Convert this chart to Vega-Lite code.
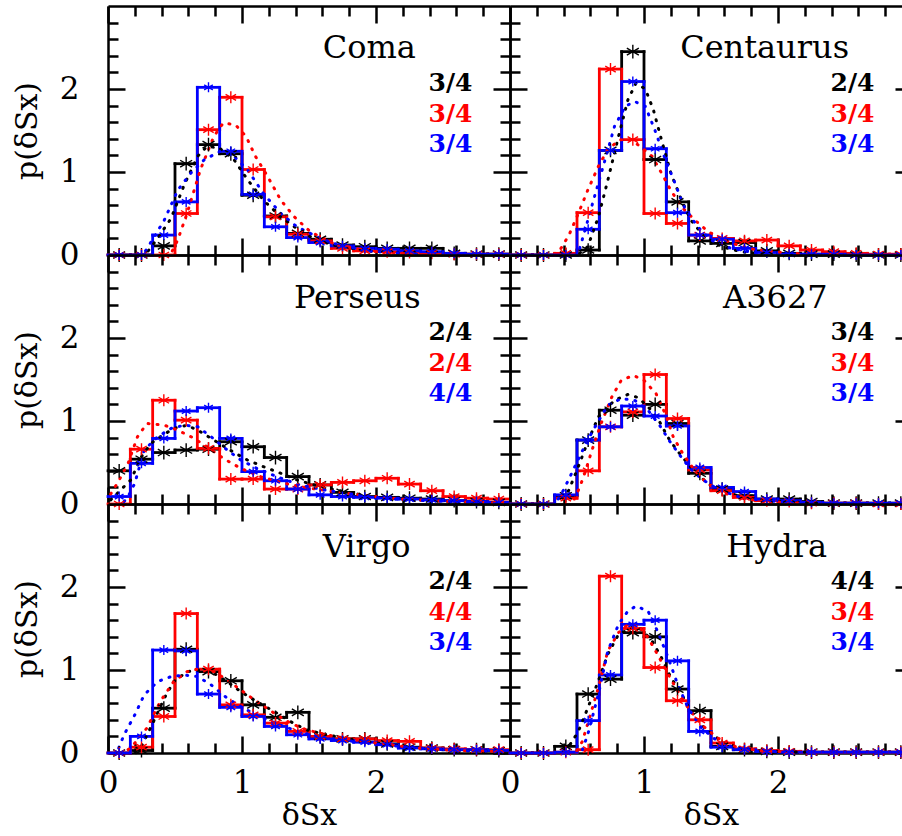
{
"$schema": "https://vega.github.io/schema/vega-lite/v6.json",
"background": "white",
"padding": {"left": 12, "top": 4, "right": 0, "bottom": 0},
"columns": 2,
"spacing": 0,
"bounds": "flush",
"config": {
  "view": {"stroke": null},
  "axis": {"grid": false, "domainColor": "#000000", "domainWidth": 2.5, "tickColor": "#000000", "tickWidth": 2.5, "labelFont": "DejaVu Serif", "labelFontSize": 31, "labelColor": "#000000", "labelFlush": false, "labelOverlap": false, "titleFont": "DejaVu Serif", "titleFontSize": 30, "titleFontWeight": "normal", "titleColor": "#000000"}
},
"datasets": {
"names": [{"c":"Coma"},{"c":"Centaurus"},{"c":"Perseus"},{"c":"A3627"},{"c":"Virgo"},{"c":"Hydra"}],
"fracs": [
{"c":"Coma","s":"1","t":"3/4"},{"c":"Coma","s":"2","t":"3/4"},{"c":"Coma","s":"3","t":"3/4"},
{"c":"Centaurus","s":"1","t":"2/4"},{"c":"Centaurus","s":"2","t":"3/4"},{"c":"Centaurus","s":"3","t":"3/4"},
{"c":"Perseus","s":"1","t":"2/4"},{"c":"Perseus","s":"2","t":"2/4"},{"c":"Perseus","s":"3","t":"4/4"},
{"c":"A3627","s":"1","t":"3/4"},{"c":"A3627","s":"2","t":"3/4"},{"c":"A3627","s":"3","t":"3/4"},
{"c":"Virgo","s":"1","t":"2/4"},{"c":"Virgo","s":"2","t":"4/4"},{"c":"Virgo","s":"3","t":"3/4"},
{"c":"Hydra","s":"1","t":"4/4"},{"c":"Hydra","s":"2","t":"3/4"},{"c":"Hydra","s":"3","t":"3/4"}
],
"hist": [
{"c":"Coma","s":"1","lo":0,"hi":0.1667,"v":0},{"c":"Coma","s":"1","lo":0.1667,"hi":0.3333,"v":0},{"c":"Coma","s":"1","lo":0.3333,"hi":0.5,"v":0.11},{"c":"Coma","s":"1","lo":0.5,"hi":0.6667,"v":1.10},{"c":"Coma","s":"1","lo":0.6667,"hi":0.8333,"v":1.33},{"c":"Coma","s":"1","lo":0.8333,"hi":1,"v":1.22},{"c":"Coma","s":"1","lo":1,"hi":1.1667,"v":0.72},{"c":"Coma","s":"1","lo":1.1667,"hi":1.3333,"v":0.47},{"c":"Coma","s":"1","lo":1.3333,"hi":1.5,"v":0.26},{"c":"Coma","s":"1","lo":1.5,"hi":1.6667,"v":0.19},{"c":"Coma","s":"1","lo":1.6667,"hi":1.8333,"v":0.12},{"c":"Coma","s":"1","lo":1.8333,"hi":2,"v":0.10},{"c":"Coma","s":"1","lo":2,"hi":2.1667,"v":0.08},{"c":"Coma","s":"1","lo":2.1667,"hi":2.3333,"v":0.08},{"c":"Coma","s":"1","lo":2.3333,"hi":2.5,"v":0.08},{"c":"Coma","s":"1","lo":2.5,"hi":2.6667,"v":0.02},{"c":"Coma","s":"1","lo":2.6667,"hi":2.8333,"v":0.01},{"c":"Coma","s":"1","lo":2.8333,"hi":3,"v":0.01},
{"c":"Coma","s":"2","lo":0,"hi":0.1667,"v":0},{"c":"Coma","s":"2","lo":0.1667,"hi":0.3333,"v":0},{"c":"Coma","s":"2","lo":0.3333,"hi":0.5,"v":0},{"c":"Coma","s":"2","lo":0.5,"hi":0.6667,"v":0.50},{"c":"Coma","s":"2","lo":0.6667,"hi":0.8333,"v":1.51},{"c":"Coma","s":"2","lo":0.8333,"hi":1,"v":1.90},{"c":"Coma","s":"2","lo":1,"hi":1.1667,"v":1.03},{"c":"Coma","s":"2","lo":1.1667,"hi":1.3333,"v":0.46},{"c":"Coma","s":"2","lo":1.3333,"hi":1.5,"v":0.25},{"c":"Coma","s":"2","lo":1.5,"hi":1.6667,"v":0.17},{"c":"Coma","s":"2","lo":1.6667,"hi":1.8333,"v":0.08},{"c":"Coma","s":"2","lo":1.8333,"hi":2,"v":0.05},{"c":"Coma","s":"2","lo":2,"hi":2.1667,"v":0.04},{"c":"Coma","s":"2","lo":2.1667,"hi":2.3333,"v":0.03},{"c":"Coma","s":"2","lo":2.3333,"hi":2.5,"v":0.02},{"c":"Coma","s":"2","lo":2.5,"hi":2.6667,"v":0.01},{"c":"Coma","s":"2","lo":2.6667,"hi":2.8333,"v":0.01},{"c":"Coma","s":"2","lo":2.8333,"hi":3,"v":0.01},
{"c":"Coma","s":"3","lo":0,"hi":0.1667,"v":0},{"c":"Coma","s":"3","lo":0.1667,"hi":0.3333,"v":0},{"c":"Coma","s":"3","lo":0.3333,"hi":0.5,"v":0.24},{"c":"Coma","s":"3","lo":0.5,"hi":0.6667,"v":0.64},{"c":"Coma","s":"3","lo":0.6667,"hi":0.8333,"v":2.02},{"c":"Coma","s":"3","lo":0.8333,"hi":1,"v":1.25},{"c":"Coma","s":"3","lo":1,"hi":1.1667,"v":0.73},{"c":"Coma","s":"3","lo":1.1667,"hi":1.3333,"v":0.34},{"c":"Coma","s":"3","lo":1.3333,"hi":1.5,"v":0.21},{"c":"Coma","s":"3","lo":1.5,"hi":1.6667,"v":0.15},{"c":"Coma","s":"3","lo":1.6667,"hi":1.8333,"v":0.11},{"c":"Coma","s":"3","lo":1.8333,"hi":2,"v":0.08},{"c":"Coma","s":"3","lo":2,"hi":2.1667,"v":0.07},{"c":"Coma","s":"3","lo":2.1667,"hi":2.3333,"v":0.05},{"c":"Coma","s":"3","lo":2.3333,"hi":2.5,"v":0.04},{"c":"Coma","s":"3","lo":2.5,"hi":2.6667,"v":0.02},{"c":"Coma","s":"3","lo":2.6667,"hi":2.8333,"v":0.01},{"c":"Coma","s":"3","lo":2.8333,"hi":3,"v":0.01},
{"c":"Centaurus","s":"1","lo":0,"hi":0.1667,"v":0},{"c":"Centaurus","s":"1","lo":0.1667,"hi":0.3333,"v":0},{"c":"Centaurus","s":"1","lo":0.3333,"hi":0.5,"v":0},{"c":"Centaurus","s":"1","lo":0.5,"hi":0.6667,"v":0.06},{"c":"Centaurus","s":"1","lo":0.6667,"hi":0.8333,"v":1.26},{"c":"Centaurus","s":"1","lo":0.8333,"hi":1,"v":2.45},{"c":"Centaurus","s":"1","lo":1,"hi":1.1667,"v":1.15},{"c":"Centaurus","s":"1","lo":1.1667,"hi":1.3333,"v":0.64},{"c":"Centaurus","s":"1","lo":1.3333,"hi":1.5,"v":0.17},{"c":"Centaurus","s":"1","lo":1.5,"hi":1.6667,"v":0.14},{"c":"Centaurus","s":"1","lo":1.6667,"hi":1.8333,"v":0.15},{"c":"Centaurus","s":"1","lo":1.8333,"hi":2,"v":0.05},{"c":"Centaurus","s":"1","lo":2,"hi":2.1667,"v":0.02},{"c":"Centaurus","s":"1","lo":2.1667,"hi":2.3333,"v":0.01},{"c":"Centaurus","s":"1","lo":2.3333,"hi":2.5,"v":0.01},{"c":"Centaurus","s":"1","lo":2.5,"hi":2.6667,"v":0},{"c":"Centaurus","s":"1","lo":2.6667,"hi":2.8333,"v":0},{"c":"Centaurus","s":"1","lo":2.8333,"hi":3,"v":0},
{"c":"Centaurus","s":"2","lo":0,"hi":0.1667,"v":0},{"c":"Centaurus","s":"2","lo":0.1667,"hi":0.3333,"v":0},{"c":"Centaurus","s":"2","lo":0.3333,"hi":0.5,"v":0.02},{"c":"Centaurus","s":"2","lo":0.5,"hi":0.6667,"v":0.51},{"c":"Centaurus","s":"2","lo":0.6667,"hi":0.8333,"v":2.24},{"c":"Centaurus","s":"2","lo":0.8333,"hi":1,"v":1.39},{"c":"Centaurus","s":"2","lo":1,"hi":1.1667,"v":0.50},{"c":"Centaurus","s":"2","lo":1.1667,"hi":1.3333,"v":0.38},{"c":"Centaurus","s":"2","lo":1.3333,"hi":1.5,"v":0.24},{"c":"Centaurus","s":"2","lo":1.5,"hi":1.6667,"v":0.20},{"c":"Centaurus","s":"2","lo":1.6667,"hi":1.8333,"v":0.17},{"c":"Centaurus","s":"2","lo":1.8333,"hi":2,"v":0.18},{"c":"Centaurus","s":"2","lo":2,"hi":2.1667,"v":0.11},{"c":"Centaurus","s":"2","lo":2.1667,"hi":2.3333,"v":0.06},{"c":"Centaurus","s":"2","lo":2.3333,"hi":2.5,"v":0.04},{"c":"Centaurus","s":"2","lo":2.5,"hi":2.6667,"v":0.02},{"c":"Centaurus","s":"2","lo":2.6667,"hi":2.8333,"v":0.01},{"c":"Centaurus","s":"2","lo":2.8333,"hi":3,"v":0.01},
{"c":"Centaurus","s":"3","lo":0,"hi":0.1667,"v":0},{"c":"Centaurus","s":"3","lo":0.1667,"hi":0.3333,"v":0},{"c":"Centaurus","s":"3","lo":0.3333,"hi":0.5,"v":0},{"c":"Centaurus","s":"3","lo":0.5,"hi":0.6667,"v":0.31},{"c":"Centaurus","s":"3","lo":0.6667,"hi":0.8333,"v":1.26},{"c":"Centaurus","s":"3","lo":0.8333,"hi":1,"v":2.09},{"c":"Centaurus","s":"3","lo":1,"hi":1.1667,"v":1.28},{"c":"Centaurus","s":"3","lo":1.1667,"hi":1.3333,"v":0.51},{"c":"Centaurus","s":"3","lo":1.3333,"hi":1.5,"v":0.24},{"c":"Centaurus","s":"3","lo":1.5,"hi":1.6667,"v":0.19},{"c":"Centaurus","s":"3","lo":1.6667,"hi":1.8333,"v":0.08},{"c":"Centaurus","s":"3","lo":1.8333,"hi":2,"v":0.03},{"c":"Centaurus","s":"3","lo":2,"hi":2.1667,"v":0.01},{"c":"Centaurus","s":"3","lo":2.1667,"hi":2.3333,"v":0.01},{"c":"Centaurus","s":"3","lo":2.3333,"hi":2.5,"v":0.01},{"c":"Centaurus","s":"3","lo":2.5,"hi":2.6667,"v":0},{"c":"Centaurus","s":"3","lo":2.6667,"hi":2.8333,"v":0},{"c":"Centaurus","s":"3","lo":2.8333,"hi":3,"v":0},
{"c":"Perseus","s":"1","lo":0,"hi":0.1667,"v":0.40},{"c":"Perseus","s":"1","lo":0.1667,"hi":0.3333,"v":0.54},{"c":"Perseus","s":"1","lo":0.3333,"hi":0.5,"v":0.62},{"c":"Perseus","s":"1","lo":0.5,"hi":0.6667,"v":0.65},{"c":"Perseus","s":"1","lo":0.6667,"hi":0.8333,"v":0.66},{"c":"Perseus","s":"1","lo":0.8333,"hi":1,"v":0.75},{"c":"Perseus","s":"1","lo":1,"hi":1.1667,"v":0.69},{"c":"Perseus","s":"1","lo":1.1667,"hi":1.3333,"v":0.56},{"c":"Perseus","s":"1","lo":1.3333,"hi":1.5,"v":0.33},{"c":"Perseus","s":"1","lo":1.5,"hi":1.6667,"v":0.23},{"c":"Perseus","s":"1","lo":1.6667,"hi":1.8333,"v":0.14},{"c":"Perseus","s":"1","lo":1.8333,"hi":2,"v":0.09},{"c":"Perseus","s":"1","lo":2,"hi":2.1667,"v":0.08},{"c":"Perseus","s":"1","lo":2.1667,"hi":2.3333,"v":0.07},{"c":"Perseus","s":"1","lo":2.3333,"hi":2.5,"v":0.06},{"c":"Perseus","s":"1","lo":2.5,"hi":2.6667,"v":0.04},{"c":"Perseus","s":"1","lo":2.6667,"hi":2.8333,"v":0.03},{"c":"Perseus","s":"1","lo":2.8333,"hi":3,"v":0.02},
{"c":"Perseus","s":"2","lo":0,"hi":0.1667,"v":0},{"c":"Perseus","s":"2","lo":0.1667,"hi":0.3333,"v":0.66},{"c":"Perseus","s":"2","lo":0.3333,"hi":0.5,"v":1.25},{"c":"Perseus","s":"2","lo":0.5,"hi":0.6667,"v":1.01},{"c":"Perseus","s":"2","lo":0.6667,"hi":0.8333,"v":0.67},{"c":"Perseus","s":"2","lo":0.8333,"hi":1,"v":0.30},{"c":"Perseus","s":"2","lo":1,"hi":1.1667,"v":0.30},{"c":"Perseus","s":"2","lo":1.1667,"hi":1.3333,"v":0.18},{"c":"Perseus","s":"2","lo":1.3333,"hi":1.5,"v":0.18},{"c":"Perseus","s":"2","lo":1.5,"hi":1.6667,"v":0.23},{"c":"Perseus","s":"2","lo":1.6667,"hi":1.8333,"v":0.26},{"c":"Perseus","s":"2","lo":1.8333,"hi":2,"v":0.28},{"c":"Perseus","s":"2","lo":2,"hi":2.1667,"v":0.31},{"c":"Perseus","s":"2","lo":2.1667,"hi":2.3333,"v":0.24},{"c":"Perseus","s":"2","lo":2.3333,"hi":2.5,"v":0.16},{"c":"Perseus","s":"2","lo":2.5,"hi":2.6667,"v":0.09},{"c":"Perseus","s":"2","lo":2.6667,"hi":2.8333,"v":0.07},{"c":"Perseus","s":"2","lo":2.8333,"hi":3,"v":0.06},
{"c":"Perseus","s":"3","lo":0,"hi":0.1667,"v":0.09},{"c":"Perseus","s":"3","lo":0.1667,"hi":0.3333,"v":0.49},{"c":"Perseus","s":"3","lo":0.3333,"hi":0.5,"v":0.79},{"c":"Perseus","s":"3","lo":0.5,"hi":0.6667,"v":1.12},{"c":"Perseus","s":"3","lo":0.6667,"hi":0.8333,"v":1.16},{"c":"Perseus","s":"3","lo":0.8333,"hi":1,"v":0.79},{"c":"Perseus","s":"3","lo":1,"hi":1.1667,"v":0.39},{"c":"Perseus","s":"3","lo":1.1667,"hi":1.3333,"v":0.28},{"c":"Perseus","s":"3","lo":1.3333,"hi":1.5,"v":0.18},{"c":"Perseus","s":"3","lo":1.5,"hi":1.6667,"v":0.11},{"c":"Perseus","s":"3","lo":1.6667,"hi":1.8333,"v":0.09},{"c":"Perseus","s":"3","lo":1.8333,"hi":2,"v":0.08},{"c":"Perseus","s":"3","lo":2,"hi":2.1667,"v":0.07},{"c":"Perseus","s":"3","lo":2.1667,"hi":2.3333,"v":0.06},{"c":"Perseus","s":"3","lo":2.3333,"hi":2.5,"v":0.05},{"c":"Perseus","s":"3","lo":2.5,"hi":2.6667,"v":0.04},{"c":"Perseus","s":"3","lo":2.6667,"hi":2.8333,"v":0.03},{"c":"Perseus","s":"3","lo":2.8333,"hi":3,"v":0.02},
{"c":"A3627","s":"1","lo":0,"hi":0.1667,"v":0},{"c":"A3627","s":"1","lo":0.1667,"hi":0.3333,"v":0},{"c":"A3627","s":"1","lo":0.3333,"hi":0.5,"v":0.10},{"c":"A3627","s":"1","lo":0.5,"hi":0.6667,"v":0.77},{"c":"A3627","s":"1","lo":0.6667,"hi":0.8333,"v":1.13},{"c":"A3627","s":"1","lo":0.8333,"hi":1,"v":1.07},{"c":"A3627","s":"1","lo":1,"hi":1.1667,"v":1.20},{"c":"A3627","s":"1","lo":1.1667,"hi":1.3333,"v":0.97},{"c":"A3627","s":"1","lo":1.3333,"hi":1.5,"v":0.37},{"c":"A3627","s":"1","lo":1.5,"hi":1.6667,"v":0.18},{"c":"A3627","s":"1","lo":1.6667,"hi":1.8333,"v":0.10},{"c":"A3627","s":"1","lo":1.8333,"hi":2,"v":0.06},{"c":"A3627","s":"1","lo":2,"hi":2.1667,"v":0.06},{"c":"A3627","s":"1","lo":2.1667,"hi":2.3333,"v":0.03},{"c":"A3627","s":"1","lo":2.3333,"hi":2.5,"v":0.01},{"c":"A3627","s":"1","lo":2.5,"hi":2.6667,"v":0.01},{"c":"A3627","s":"1","lo":2.6667,"hi":2.8333,"v":0.01},{"c":"A3627","s":"1","lo":2.8333,"hi":3,"v":0.01},
{"c":"A3627","s":"2","lo":0,"hi":0.1667,"v":0},{"c":"A3627","s":"2","lo":0.1667,"hi":0.3333,"v":0},{"c":"A3627","s":"2","lo":0.3333,"hi":0.5,"v":0.07},{"c":"A3627","s":"2","lo":0.5,"hi":0.6667,"v":0.40},{"c":"A3627","s":"2","lo":0.6667,"hi":0.8333,"v":0.93},{"c":"A3627","s":"2","lo":0.8333,"hi":1,"v":1.11},{"c":"A3627","s":"2","lo":1,"hi":1.1667,"v":1.56},{"c":"A3627","s":"2","lo":1.1667,"hi":1.3333,"v":1.03},{"c":"A3627","s":"2","lo":1.3333,"hi":1.5,"v":0.41},{"c":"A3627","s":"2","lo":1.5,"hi":1.6667,"v":0.16},{"c":"A3627","s":"2","lo":1.6667,"hi":1.8333,"v":0.08},{"c":"A3627","s":"2","lo":1.8333,"hi":2,"v":0.04},{"c":"A3627","s":"2","lo":2,"hi":2.1667,"v":0.03},{"c":"A3627","s":"2","lo":2.1667,"hi":2.3333,"v":0.01},{"c":"A3627","s":"2","lo":2.3333,"hi":2.5,"v":0.01},{"c":"A3627","s":"2","lo":2.5,"hi":2.6667,"v":0.01},{"c":"A3627","s":"2","lo":2.6667,"hi":2.8333,"v":0},{"c":"A3627","s":"2","lo":2.8333,"hi":3,"v":0},
{"c":"A3627","s":"3","lo":0,"hi":0.1667,"v":0},{"c":"A3627","s":"3","lo":0.1667,"hi":0.3333,"v":0},{"c":"A3627","s":"3","lo":0.3333,"hi":0.5,"v":0.11},{"c":"A3627","s":"3","lo":0.5,"hi":0.6667,"v":0.77},{"c":"A3627","s":"3","lo":0.6667,"hi":0.8333,"v":0.93},{"c":"A3627","s":"3","lo":0.8333,"hi":1,"v":1.18},{"c":"A3627","s":"3","lo":1,"hi":1.1667,"v":1.06},{"c":"A3627","s":"3","lo":1.1667,"hi":1.3333,"v":0.94},{"c":"A3627","s":"3","lo":1.3333,"hi":1.5,"v":0.44},{"c":"A3627","s":"3","lo":1.5,"hi":1.6667,"v":0.20},{"c":"A3627","s":"3","lo":1.6667,"hi":1.8333,"v":0.15},{"c":"A3627","s":"3","lo":1.8333,"hi":2,"v":0.06},{"c":"A3627","s":"3","lo":2,"hi":2.1667,"v":0.04},{"c":"A3627","s":"3","lo":2.1667,"hi":2.3333,"v":0.02},{"c":"A3627","s":"3","lo":2.3333,"hi":2.5,"v":0.01},{"c":"A3627","s":"3","lo":2.5,"hi":2.6667,"v":0.01},{"c":"A3627","s":"3","lo":2.6667,"hi":2.8333,"v":0.01},{"c":"A3627","s":"3","lo":2.8333,"hi":3,"v":0.01},
{"c":"Virgo","s":"1","lo":0,"hi":0.1667,"v":0},{"c":"Virgo","s":"1","lo":0.1667,"hi":0.3333,"v":0.03},{"c":"Virgo","s":"1","lo":0.3333,"hi":0.5,"v":0.54},{"c":"Virgo","s":"1","lo":0.5,"hi":0.6667,"v":1.25},{"c":"Virgo","s":"1","lo":0.6667,"hi":0.8333,"v":0.98},{"c":"Virgo","s":"1","lo":0.8333,"hi":1,"v":0.87},{"c":"Virgo","s":"1","lo":1,"hi":1.1667,"v":0.58},{"c":"Virgo","s":"1","lo":1.1667,"hi":1.3333,"v":0.43},{"c":"Virgo","s":"1","lo":1.3333,"hi":1.5,"v":0.49},{"c":"Virgo","s":"1","lo":1.5,"hi":1.6667,"v":0.20},{"c":"Virgo","s":"1","lo":1.6667,"hi":1.8333,"v":0.17},{"c":"Virgo","s":"1","lo":1.8333,"hi":2,"v":0.17},{"c":"Virgo","s":"1","lo":2,"hi":2.1667,"v":0.11},{"c":"Virgo","s":"1","lo":2.1667,"hi":2.3333,"v":0.07},{"c":"Virgo","s":"1","lo":2.3333,"hi":2.5,"v":0.06},{"c":"Virgo","s":"1","lo":2.5,"hi":2.6667,"v":0.04},{"c":"Virgo","s":"1","lo":2.6667,"hi":2.8333,"v":0.04},{"c":"Virgo","s":"1","lo":2.8333,"hi":3,"v":0.03},
{"c":"Virgo","s":"2","lo":0,"hi":0.1667,"v":0},{"c":"Virgo","s":"2","lo":0.1667,"hi":0.3333,"v":0.07},{"c":"Virgo","s":"2","lo":0.3333,"hi":0.5,"v":0.44},{"c":"Virgo","s":"2","lo":0.5,"hi":0.6667,"v":1.68},{"c":"Virgo","s":"2","lo":0.6667,"hi":0.8333,"v":1.01},{"c":"Virgo","s":"2","lo":0.8333,"hi":1,"v":0.58},{"c":"Virgo","s":"2","lo":1,"hi":1.1667,"v":0.46},{"c":"Virgo","s":"2","lo":1.1667,"hi":1.3333,"v":0.36},{"c":"Virgo","s":"2","lo":1.3333,"hi":1.5,"v":0.26},{"c":"Virgo","s":"2","lo":1.5,"hi":1.6667,"v":0.20},{"c":"Virgo","s":"2","lo":1.6667,"hi":1.8333,"v":0.17},{"c":"Virgo","s":"2","lo":1.8333,"hi":2,"v":0.17},{"c":"Virgo","s":"2","lo":2,"hi":2.1667,"v":0.15},{"c":"Virgo","s":"2","lo":2.1667,"hi":2.3333,"v":0.14},{"c":"Virgo","s":"2","lo":2.3333,"hi":2.5,"v":0.06},{"c":"Virgo","s":"2","lo":2.5,"hi":2.6667,"v":0.05},{"c":"Virgo","s":"2","lo":2.6667,"hi":2.8333,"v":0.04},{"c":"Virgo","s":"2","lo":2.8333,"hi":3,"v":0.04},
{"c":"Virgo","s":"3","lo":0,"hi":0.1667,"v":0},{"c":"Virgo","s":"3","lo":0.1667,"hi":0.3333,"v":0.20},{"c":"Virgo","s":"3","lo":0.3333,"hi":0.5,"v":1.24},{"c":"Virgo","s":"3","lo":0.5,"hi":0.6667,"v":1.23},{"c":"Virgo","s":"3","lo":0.6667,"hi":0.8333,"v":0.71},{"c":"Virgo","s":"3","lo":0.8333,"hi":1,"v":0.55},{"c":"Virgo","s":"3","lo":1,"hi":1.1667,"v":0.44},{"c":"Virgo","s":"3","lo":1.1667,"hi":1.3333,"v":0.32},{"c":"Virgo","s":"3","lo":1.3333,"hi":1.5,"v":0.22},{"c":"Virgo","s":"3","lo":1.5,"hi":1.6667,"v":0.17},{"c":"Virgo","s":"3","lo":1.6667,"hi":1.8333,"v":0.15},{"c":"Virgo","s":"3","lo":1.8333,"hi":2,"v":0.13},{"c":"Virgo","s":"3","lo":2,"hi":2.1667,"v":0.10},{"c":"Virgo","s":"3","lo":2.1667,"hi":2.3333,"v":0.06},{"c":"Virgo","s":"3","lo":2.3333,"hi":2.5,"v":0.05},{"c":"Virgo","s":"3","lo":2.5,"hi":2.6667,"v":0.04},{"c":"Virgo","s":"3","lo":2.6667,"hi":2.8333,"v":0.04},{"c":"Virgo","s":"3","lo":2.8333,"hi":3,"v":0.03},
{"c":"Hydra","s":"1","lo":0,"hi":0.1667,"v":0},{"c":"Hydra","s":"1","lo":0.1667,"hi":0.3333,"v":0},{"c":"Hydra","s":"1","lo":0.3333,"hi":0.5,"v":0.08},{"c":"Hydra","s":"1","lo":0.5,"hi":0.6667,"v":0.71},{"c":"Hydra","s":"1","lo":0.6667,"hi":0.8333,"v":0.89},{"c":"Hydra","s":"1","lo":0.8333,"hi":1,"v":1.45},{"c":"Hydra","s":"1","lo":1,"hi":1.1667,"v":1.40},{"c":"Hydra","s":"1","lo":1.1667,"hi":1.3333,"v":0.77},{"c":"Hydra","s":"1","lo":1.3333,"hi":1.5,"v":0.51},{"c":"Hydra","s":"1","lo":1.5,"hi":1.6667,"v":0.08},{"c":"Hydra","s":"1","lo":1.6667,"hi":1.8333,"v":0.04},{"c":"Hydra","s":"1","lo":1.8333,"hi":2,"v":0.02},{"c":"Hydra","s":"1","lo":2,"hi":2.1667,"v":0.01},{"c":"Hydra","s":"1","lo":2.1667,"hi":2.3333,"v":0.01},{"c":"Hydra","s":"1","lo":2.3333,"hi":2.5,"v":0.01},{"c":"Hydra","s":"1","lo":2.5,"hi":2.6667,"v":0.01},{"c":"Hydra","s":"1","lo":2.6667,"hi":2.8333,"v":0.01},{"c":"Hydra","s":"1","lo":2.8333,"hi":3,"v":0.01},
{"c":"Hydra","s":"2","lo":0,"hi":0.1667,"v":0},{"c":"Hydra","s":"2","lo":0.1667,"hi":0.3333,"v":0},{"c":"Hydra","s":"2","lo":0.3333,"hi":0.5,"v":0.01},{"c":"Hydra","s":"2","lo":0.5,"hi":0.6667,"v":0.04},{"c":"Hydra","s":"2","lo":0.6667,"hi":0.8333,"v":2.13},{"c":"Hydra","s":"2","lo":0.8333,"hi":1,"v":1.50},{"c":"Hydra","s":"2","lo":1,"hi":1.1667,"v":1.03},{"c":"Hydra","s":"2","lo":1.1667,"hi":1.3333,"v":0.63},{"c":"Hydra","s":"2","lo":1.3333,"hi":1.5,"v":0.40},{"c":"Hydra","s":"2","lo":1.5,"hi":1.6667,"v":0.12},{"c":"Hydra","s":"2","lo":1.6667,"hi":1.8333,"v":0.05},{"c":"Hydra","s":"2","lo":1.8333,"hi":2,"v":0.03},{"c":"Hydra","s":"2","lo":2,"hi":2.1667,"v":0.02},{"c":"Hydra","s":"2","lo":2.1667,"hi":2.3333,"v":0.01},{"c":"Hydra","s":"2","lo":2.3333,"hi":2.5,"v":0.01},{"c":"Hydra","s":"2","lo":2.5,"hi":2.6667,"v":0.01},{"c":"Hydra","s":"2","lo":2.6667,"hi":2.8333,"v":0.01},{"c":"Hydra","s":"2","lo":2.8333,"hi":3,"v":0.01},
{"c":"Hydra","s":"3","lo":0,"hi":0.1667,"v":0},{"c":"Hydra","s":"3","lo":0.1667,"hi":0.3333,"v":0},{"c":"Hydra","s":"3","lo":0.3333,"hi":0.5,"v":0.01},{"c":"Hydra","s":"3","lo":0.5,"hi":0.6667,"v":0.39},{"c":"Hydra","s":"3","lo":0.6667,"hi":0.8333,"v":0.94},{"c":"Hydra","s":"3","lo":0.8333,"hi":1,"v":1.55},{"c":"Hydra","s":"3","lo":1,"hi":1.1667,"v":1.60},{"c":"Hydra","s":"3","lo":1.1667,"hi":1.3333,"v":1.11},{"c":"Hydra","s":"3","lo":1.3333,"hi":1.5,"v":0.26},{"c":"Hydra","s":"3","lo":1.5,"hi":1.6667,"v":0.07},{"c":"Hydra","s":"3","lo":1.6667,"hi":1.8333,"v":0.04},{"c":"Hydra","s":"3","lo":1.8333,"hi":2,"v":0.02},{"c":"Hydra","s":"3","lo":2,"hi":2.1667,"v":0.01},{"c":"Hydra","s":"3","lo":2.1667,"hi":2.3333,"v":0.01},{"c":"Hydra","s":"3","lo":2.3333,"hi":2.5,"v":0.01},{"c":"Hydra","s":"3","lo":2.5,"hi":2.6667,"v":0.01},{"c":"Hydra","s":"3","lo":2.6667,"hi":2.8333,"v":0.01},{"c":"Hydra","s":"3","lo":2.8333,"hi":3,"v":0.01}
],
"curve": [
{"c":"Coma","s":"1","x":0.30,"y":0.05},{"c":"Coma","s":"1","x":0.37,"y":0.2},{"c":"Coma","s":"1","x":0.47,"y":0.44},{"c":"Coma","s":"1","x":0.57,"y":0.85},{"c":"Coma","s":"1","x":0.67,"y":1.19},{"c":"Coma","s":"1","x":0.74,"y":1.31},{"c":"Coma","s":"1","x":0.83,"y":1.29},{"c":"Coma","s":"1","x":0.94,"y":1.15},{"c":"Coma","s":"1","x":1.04,"y":0.91},{"c":"Coma","s":"1","x":1.16,"y":0.66},{"c":"Coma","s":"1","x":1.29,"y":0.46},{"c":"Coma","s":"1","x":1.39,"y":0.34},{"c":"Coma","s":"1","x":1.53,"y":0.2},{"c":"Coma","s":"1","x":1.68,"y":0.12},{"c":"Coma","s":"1","x":1.93,"y":0.05},{"c":"Coma","s":"1","x":2.3,"y":0.01},
{"c":"Coma","s":"2","x":0.48,"y":0.05},{"c":"Coma","s":"2","x":0.52,"y":0.18},{"c":"Coma","s":"2","x":0.59,"y":0.50},{"c":"Coma","s":"2","x":0.69,"y":1.03},{"c":"Coma","s":"2","x":0.79,"y":1.43},{"c":"Coma","s":"2","x":0.86,"y":1.59},{"c":"Coma","s":"2","x":0.95,"y":1.57},{"c":"Coma","s":"2","x":1.03,"y":1.43},{"c":"Coma","s":"2","x":1.10,"y":1.19},{"c":"Coma","s":"2","x":1.19,"y":0.95},{"c":"Coma","s":"2","x":1.29,"y":0.66},{"c":"Coma","s":"2","x":1.39,"y":0.46},{"c":"Coma","s":"2","x":1.51,"y":0.28},{"c":"Coma","s":"2","x":1.68,"y":0.14},{"c":"Coma","s":"2","x":1.93,"y":0.05},{"c":"Coma","s":"2","x":2.3,"y":0.01},
{"c":"Coma","s":"3","x":0.28,"y":0.05},{"c":"Coma","s":"3","x":0.33,"y":0.18},{"c":"Coma","s":"3","x":0.42,"y":0.42},{"c":"Coma","s":"3","x":0.52,"y":0.78},{"c":"Coma","s":"3","x":0.62,"y":0.99},{"c":"Coma","s":"3","x":0.72,"y":1.15},{"c":"Coma","s":"3","x":0.84,"y":1.25},{"c":"Coma","s":"3","x":0.94,"y":1.19},{"c":"Coma","s":"3","x":1.04,"y":1.03},{"c":"Coma","s":"3","x":1.16,"y":0.74},{"c":"Coma","s":"3","x":1.29,"y":0.50},{"c":"Coma","s":"3","x":1.41,"y":0.34},{"c":"Coma","s":"3","x":1.56,"y":0.22},{"c":"Coma","s":"3","x":1.68,"y":0.14},{"c":"Coma","s":"3","x":1.93,"y":0.05},{"c":"Coma","s":"3","x":2.3,"y":0.01},
{"c":"Centaurus","s":"1","x":0.52,"y":0.02},{"c":"Centaurus","s":"1","x":0.58,"y":0.1},{"c":"Centaurus","s":"1","x":0.66,"y":0.46},{"c":"Centaurus","s":"1","x":0.73,"y":0.9},{"c":"Centaurus","s":"1","x":0.81,"y":1.43},{"c":"Centaurus","s":"1","x":0.88,"y":1.87},{"c":"Centaurus","s":"1","x":0.94,"y":2.07},{"c":"Centaurus","s":"1","x":1.01,"y":2.0},{"c":"Centaurus","s":"1","x":1.07,"y":1.75},{"c":"Centaurus","s":"1","x":1.13,"y":1.39},{"c":"Centaurus","s":"1","x":1.2,"y":0.99},{"c":"Centaurus","s":"1","x":1.28,"y":0.66},{"c":"Centaurus","s":"1","x":1.35,"y":0.42},{"c":"Centaurus","s":"1","x":1.45,"y":0.22},{"c":"Centaurus","s":"1","x":1.58,"y":0.1},{"c":"Centaurus","s":"1","x":1.72,"y":0.04},{"c":"Centaurus","s":"1","x":1.9,"y":0.01},
{"c":"Centaurus","s":"2","x":0.38,"y":0.08},{"c":"Centaurus","s":"2","x":0.44,"y":0.24},{"c":"Centaurus","s":"2","x":0.51,"y":0.50},{"c":"Centaurus","s":"2","x":0.58,"y":0.78},{"c":"Centaurus","s":"2","x":0.66,"y":1.07},{"c":"Centaurus","s":"2","x":0.73,"y":1.27},{"c":"Centaurus","s":"2","x":0.82,"y":1.39},{"c":"Centaurus","s":"2","x":0.9,"y":1.39},{"c":"Centaurus","s":"2","x":0.97,"y":1.31},{"c":"Centaurus","s":"2","x":1.06,"y":1.19},{"c":"Centaurus","s":"2","x":1.13,"y":0.99},{"c":"Centaurus","s":"2","x":1.2,"y":0.78},{"c":"Centaurus","s":"2","x":1.28,"y":0.58},{"c":"Centaurus","s":"2","x":1.38,"y":0.42},{"c":"Centaurus","s":"2","x":1.48,"y":0.28},{"c":"Centaurus","s":"2","x":1.63,"y":0.16},{"c":"Centaurus","s":"2","x":1.77,"y":0.08},{"c":"Centaurus","s":"2","x":1.97,"y":0.04},{"c":"Centaurus","s":"2","x":2.2,"y":0.01},
{"c":"Centaurus","s":"3","x":0.52,"y":0.08},{"c":"Centaurus","s":"3","x":0.56,"y":0.3},{"c":"Centaurus","s":"3","x":0.63,"y":0.7},{"c":"Centaurus","s":"3","x":0.71,"y":1.15},{"c":"Centaurus","s":"3","x":0.78,"y":1.55},{"c":"Centaurus","s":"3","x":0.86,"y":1.79},{"c":"Centaurus","s":"3","x":0.93,"y":1.85},{"c":"Centaurus","s":"3","x":1.01,"y":1.79},{"c":"Centaurus","s":"3","x":1.08,"y":1.51},{"c":"Centaurus","s":"3","x":1.15,"y":1.19},{"c":"Centaurus","s":"3","x":1.23,"y":0.87},{"c":"Centaurus","s":"3","x":1.3,"y":0.58},{"c":"Centaurus","s":"3","x":1.4,"y":0.34},{"c":"Centaurus","s":"3","x":1.5,"y":0.18},{"c":"Centaurus","s":"3","x":1.65,"y":0.08},{"c":"Centaurus","s":"3","x":1.85,"y":0.02},
{"c":"Perseus","s":"1","x":0.02,"y":0.05},{"c":"Perseus","s":"1","x":0.07,"y":0.13},{"c":"Perseus","s":"1","x":0.17,"y":0.29},{"c":"Perseus","s":"1","x":0.25,"y":0.57},{"c":"Perseus","s":"1","x":0.32,"y":0.73},{"c":"Perseus","s":"1","x":0.41,"y":0.83},{"c":"Perseus","s":"1","x":0.49,"y":0.91},{"c":"Perseus","s":"1","x":0.59,"y":0.95},{"c":"Perseus","s":"1","x":0.69,"y":0.87},{"c":"Perseus","s":"1","x":0.79,"y":0.77},{"c":"Perseus","s":"1","x":0.91,"y":0.65},{"c":"Perseus","s":"1","x":1.04,"y":0.53},{"c":"Perseus","s":"1","x":1.16,"y":0.45},{"c":"Perseus","s":"1","x":1.29,"y":0.37},{"c":"Perseus","s":"1","x":1.41,"y":0.29},{"c":"Perseus","s":"1","x":1.58,"y":0.21},{"c":"Perseus","s":"1","x":1.76,"y":0.15},{"c":"Perseus","s":"1","x":1.93,"y":0.10},{"c":"Perseus","s":"1","x":2.18,"y":0.06},{"c":"Perseus","s":"1","x":2.55,"y":0.03},{"c":"Perseus","s":"1","x":2.95,"y":0.01},
{"c":"Perseus","s":"2","x":0.02,"y":0.12},{"c":"Perseus","s":"2","x":0.07,"y":0.25},{"c":"Perseus","s":"2","x":0.15,"y":0.49},{"c":"Perseus","s":"2","x":0.22,"y":0.81},{"c":"Perseus","s":"2","x":0.29,"y":0.97},{"c":"Perseus","s":"2","x":0.42,"y":0.95},{"c":"Perseus","s":"2","x":0.52,"y":0.89},{"c":"Perseus","s":"2","x":0.62,"y":0.81},{"c":"Perseus","s":"2","x":0.74,"y":0.69},{"c":"Perseus","s":"2","x":0.86,"y":0.55},{"c":"Perseus","s":"2","x":0.99,"y":0.43},{"c":"Perseus","s":"2","x":1.14,"y":0.33},{"c":"Perseus","s":"2","x":1.31,"y":0.25},{"c":"Perseus","s":"2","x":1.51,"y":0.19},{"c":"Perseus","s":"2","x":1.73,"y":0.14},{"c":"Perseus","s":"2","x":1.93,"y":0.10},{"c":"Perseus","s":"2","x":2.18,"y":0.06},{"c":"Perseus","s":"2","x":2.55,"y":0.03},{"c":"Perseus","s":"2","x":2.95,"y":0.01},
{"c":"Perseus","s":"3","x":0.12,"y":0.03},{"c":"Perseus","s":"3","x":0.15,"y":0.09},{"c":"Perseus","s":"3","x":0.2,"y":0.25},{"c":"Perseus","s":"3","x":0.27,"y":0.65},{"c":"Perseus","s":"3","x":0.37,"y":0.81},{"c":"Perseus","s":"3","x":0.47,"y":0.91},{"c":"Perseus","s":"3","x":0.57,"y":0.95},{"c":"Perseus","s":"3","x":0.67,"y":0.93},{"c":"Perseus","s":"3","x":0.77,"y":0.81},{"c":"Perseus","s":"3","x":0.89,"y":0.65},{"c":"Perseus","s":"3","x":0.99,"y":0.53},{"c":"Perseus","s":"3","x":1.11,"y":0.43},{"c":"Perseus","s":"3","x":1.26,"y":0.33},{"c":"Perseus","s":"3","x":1.43,"y":0.23},{"c":"Perseus","s":"3","x":1.61,"y":0.17},{"c":"Perseus","s":"3","x":1.78,"y":0.13},{"c":"Perseus","s":"3","x":1.93,"y":0.09},{"c":"Perseus","s":"3","x":2.2,"y":0.05},{"c":"Perseus","s":"3","x":2.55,"y":0.03},{"c":"Perseus","s":"3","x":2.95,"y":0.01},
{"c":"A3627","s":"1","x":0.40,"y":0.06},{"c":"A3627","s":"1","x":0.44,"y":0.17},{"c":"A3627","s":"1","x":0.51,"y":0.45},{"c":"A3627","s":"1","x":0.58,"y":0.75},{"c":"A3627","s":"1","x":0.66,"y":1.05},{"c":"A3627","s":"1","x":0.78,"y":1.25},{"c":"A3627","s":"1","x":0.88,"y":1.32},{"c":"A3627","s":"1","x":0.96,"y":1.28},{"c":"A3627","s":"1","x":1.06,"y":1.12},{"c":"A3627","s":"1","x":1.12,"y":0.98},{"c":"A3627","s":"1","x":1.18,"y":0.80},{"c":"A3627","s":"1","x":1.24,"y":0.66},{"c":"A3627","s":"1","x":1.30,"y":0.54},{"c":"A3627","s":"1","x":1.38,"y":0.38},{"c":"A3627","s":"1","x":1.5,"y":0.22},{"c":"A3627","s":"1","x":1.63,"y":0.13},{"c":"A3627","s":"1","x":1.78,"y":0.07},{"c":"A3627","s":"1","x":2.0,"y":0.03},{"c":"A3627","s":"1","x":2.3,"y":0.01},
{"c":"A3627","s":"2","x":0.48,"y":0.06},{"c":"A3627","s":"2","x":0.52,"y":0.2},{"c":"A3627","s":"2","x":0.56,"y":0.38},{"c":"A3627","s":"2","x":0.61,"y":0.64},{"c":"A3627","s":"2","x":0.68,"y":0.97},{"c":"A3627","s":"2","x":0.76,"y":1.29},{"c":"A3627","s":"2","x":0.83,"y":1.49},{"c":"A3627","s":"2","x":0.92,"y":1.55},{"c":"A3627","s":"2","x":1.0,"y":1.49},{"c":"A3627","s":"2","x":1.09,"y":1.33},{"c":"A3627","s":"2","x":1.16,"y":1.08},{"c":"A3627","s":"2","x":1.22,"y":0.80},{"c":"A3627","s":"2","x":1.30,"y":0.58},{"c":"A3627","s":"2","x":1.38,"y":0.40},{"c":"A3627","s":"2","x":1.47,"y":0.25},{"c":"A3627","s":"2","x":1.58,"y":0.14},{"c":"A3627","s":"2","x":1.72,"y":0.07},{"c":"A3627","s":"2","x":1.9,"y":0.03},{"c":"A3627","s":"2","x":2.2,"y":0.01},
{"c":"A3627","s":"3","x":0.36,"y":0.06},{"c":"A3627","s":"3","x":0.40,"y":0.17},{"c":"A3627","s":"3","x":0.46,"y":0.37},{"c":"A3627","s":"3","x":0.54,"y":0.64},{"c":"A3627","s":"3","x":0.61,"y":0.86},{"c":"A3627","s":"3","x":0.66,"y":1.0},{"c":"A3627","s":"3","x":0.73,"y":1.19},{"c":"A3627","s":"3","x":0.83,"y":1.27},{"c":"A3627","s":"3","x":0.93,"y":1.25},{"c":"A3627","s":"3","x":1.03,"y":1.13},{"c":"A3627","s":"3","x":1.12,"y":0.94},{"c":"A3627","s":"3","x":1.19,"y":0.76},{"c":"A3627","s":"3","x":1.28,"y":0.56},{"c":"A3627","s":"3","x":1.35,"y":0.42},{"c":"A3627","s":"3","x":1.43,"y":0.3},{"c":"A3627","s":"3","x":1.55,"y":0.18},{"c":"A3627","s":"3","x":1.7,"y":0.09},{"c":"A3627","s":"3","x":1.9,"y":0.04},{"c":"A3627","s":"3","x":2.2,"y":0.01},
{"c":"Virgo","s":"1","x":0.2,"y":0.02},{"c":"Virgo","s":"1","x":0.25,"y":0.08},{"c":"Virgo","s":"1","x":0.34,"y":0.38},{"c":"Virgo","s":"1","x":0.42,"y":0.66},{"c":"Virgo","s":"1","x":0.49,"y":0.86},{"c":"Virgo","s":"1","x":0.59,"y":0.98},{"c":"Virgo","s":"1","x":0.69,"y":1.0},{"c":"Virgo","s":"1","x":0.79,"y":0.96},{"c":"Virgo","s":"1","x":0.89,"y":0.86},{"c":"Virgo","s":"1","x":0.99,"y":0.74},{"c":"Virgo","s":"1","x":1.11,"y":0.62},{"c":"Virgo","s":"1","x":1.24,"y":0.5},{"c":"Virgo","s":"1","x":1.36,"y":0.38},{"c":"Virgo","s":"1","x":1.48,"y":0.28},{"c":"Virgo","s":"1","x":1.63,"y":0.22},{"c":"Virgo","s":"1","x":1.83,"y":0.16},{"c":"Virgo","s":"1","x":2.05,"y":0.11},{"c":"Virgo","s":"1","x":2.3,"y":0.06},{"c":"Virgo","s":"1","x":2.6,"y":0.03},{"c":"Virgo","s":"1","x":2.95,"y":0.02},
{"c":"Virgo","s":"2","x":0.15,"y":0.04},{"c":"Virgo","s":"2","x":0.2,"y":0.12},{"c":"Virgo","s":"2","x":0.29,"y":0.3},{"c":"Virgo","s":"2","x":0.39,"y":0.62},{"c":"Virgo","s":"2","x":0.49,"y":0.86},{"c":"Virgo","s":"2","x":0.59,"y":0.98},{"c":"Virgo","s":"2","x":0.69,"y":1.02},{"c":"Virgo","s":"2","x":0.79,"y":0.98},{"c":"Virgo","s":"2","x":0.89,"y":0.88},{"c":"Virgo","s":"2","x":0.99,"y":0.76},{"c":"Virgo","s":"2","x":1.11,"y":0.62},{"c":"Virgo","s":"2","x":1.24,"y":0.48},{"c":"Virgo","s":"2","x":1.36,"y":0.36},{"c":"Virgo","s":"2","x":1.48,"y":0.28},{"c":"Virgo","s":"2","x":1.63,"y":0.22},{"c":"Virgo","s":"2","x":1.83,"y":0.16},{"c":"Virgo","s":"2","x":2.05,"y":0.11},{"c":"Virgo","s":"2","x":2.3,"y":0.06},{"c":"Virgo","s":"2","x":2.6,"y":0.03},{"c":"Virgo","s":"2","x":2.95,"y":0.02},
{"c":"Virgo","s":"3","x":0.08,"y":0.06},{"c":"Virgo","s":"3","x":0.12,"y":0.22},{"c":"Virgo","s":"3","x":0.2,"y":0.46},{"c":"Virgo","s":"3","x":0.27,"y":0.7},{"c":"Virgo","s":"3","x":0.37,"y":0.86},{"c":"Virgo","s":"3","x":0.47,"y":0.92},{"c":"Virgo","s":"3","x":0.57,"y":0.94},{"c":"Virgo","s":"3","x":0.67,"y":0.92},{"c":"Virgo","s":"3","x":0.77,"y":0.82},{"c":"Virgo","s":"3","x":0.89,"y":0.66},{"c":"Virgo","s":"3","x":1.01,"y":0.54},{"c":"Virgo","s":"3","x":1.16,"y":0.42},{"c":"Virgo","s":"3","x":1.31,"y":0.32},{"c":"Virgo","s":"3","x":1.46,"y":0.24},{"c":"Virgo","s":"3","x":1.63,"y":0.18},{"c":"Virgo","s":"3","x":1.83,"y":0.14},{"c":"Virgo","s":"3","x":2.05,"y":0.1},{"c":"Virgo","s":"3","x":2.3,"y":0.06},{"c":"Virgo","s":"3","x":2.6,"y":0.03},{"c":"Virgo","s":"3","x":2.95,"y":0.02},
{"c":"Hydra","s":"1","x":0.4,"y":0.03},{"c":"Hydra","s":"1","x":0.44,"y":0.08},{"c":"Hydra","s":"1","x":0.51,"y":0.26},{"c":"Hydra","s":"1","x":0.58,"y":0.54},{"c":"Hydra","s":"1","x":0.66,"y":0.87},{"c":"Hydra","s":"1","x":0.73,"y":1.19},{"c":"Hydra","s":"1","x":0.81,"y":1.43},{"c":"Hydra","s":"1","x":0.91,"y":1.51},{"c":"Hydra","s":"1","x":0.98,"y":1.49},{"c":"Hydra","s":"1","x":1.06,"y":1.35},{"c":"Hydra","s":"1","x":1.13,"y":1.15},{"c":"Hydra","s":"1","x":1.2,"y":0.91},{"c":"Hydra","s":"1","x":1.28,"y":0.71},{"c":"Hydra","s":"1","x":1.35,"y":0.5},{"c":"Hydra","s":"1","x":1.45,"y":0.3},{"c":"Hydra","s":"1","x":1.58,"y":0.14},{"c":"Hydra","s":"1","x":1.72,"y":0.05},{"c":"Hydra","s":"1","x":1.9,"y":0.02},{"c":"Hydra","s":"1","x":2.2,"y":0.01},
{"c":"Hydra","s":"2","x":0.5,"y":0.03},{"c":"Hydra","s":"2","x":0.54,"y":0.14},{"c":"Hydra","s":"2","x":0.6,"y":0.46},{"c":"Hydra","s":"2","x":0.66,"y":0.79},{"c":"Hydra","s":"2","x":0.73,"y":1.23},{"c":"Hydra","s":"2","x":0.81,"y":1.45},{"c":"Hydra","s":"2","x":0.88,"y":1.55},{"c":"Hydra","s":"2","x":0.96,"y":1.53},{"c":"Hydra","s":"2","x":1.03,"y":1.39},{"c":"Hydra","s":"2","x":1.1,"y":1.19},{"c":"Hydra","s":"2","x":1.18,"y":0.95},{"c":"Hydra","s":"2","x":1.25,"y":0.75},{"c":"Hydra","s":"2","x":1.33,"y":0.54},{"c":"Hydra","s":"2","x":1.43,"y":0.34},{"c":"Hydra","s":"2","x":1.55,"y":0.18},{"c":"Hydra","s":"2","x":1.68,"y":0.08},{"c":"Hydra","s":"2","x":1.85,"y":0.03},{"c":"Hydra","s":"2","x":2.1,"y":0.01},
{"c":"Hydra","s":"3","x":0.54,"y":0.04},{"c":"Hydra","s":"3","x":0.58,"y":0.22},{"c":"Hydra","s":"3","x":0.66,"y":0.71},{"c":"Hydra","s":"3","x":0.73,"y":1.23},{"c":"Hydra","s":"3","x":0.81,"y":1.55},{"c":"Hydra","s":"3","x":0.88,"y":1.71},{"c":"Hydra","s":"3","x":0.94,"y":1.77},{"c":"Hydra","s":"3","x":1.03,"y":1.71},{"c":"Hydra","s":"3","x":1.1,"y":1.47},{"c":"Hydra","s":"3","x":1.18,"y":1.15},{"c":"Hydra","s":"3","x":1.25,"y":0.83},{"c":"Hydra","s":"3","x":1.33,"y":0.54},{"c":"Hydra","s":"3","x":1.43,"y":0.3},{"c":"Hydra","s":"3","x":1.55,"y":0.14},{"c":"Hydra","s":"3","x":1.68,"y":0.06},{"c":"Hydra","s":"3","x":1.85,"y":0.02},{"c":"Hydra","s":"3","x":2.1,"y":0.01}
]
},
"concat": [
{"width":402,"height":249,"resolve":{"axis":{"x":"independent","y":"independent"}},"layer":[
 {"data":{"name":"hist"},"transform":[{"filter":"datum.c==='Coma'"}],"mark":{"type":"rule","strokeWidth":2.8,"strokeCap":"square"},"encoding":{"x":{"field":"lo","type":"quantitative","scale":{"domain":[0,3],"nice":false,"zero":false},"axis":{"orient":"bottom","values":[0,1,2],"tickSize":-17,"labels":false,"title":null}},"x2":{"field":"hi"},"y":{"field":"v","type":"quantitative","scale":{"domain":[0,3],"nice":false},"axis":{"orient":"left","values":[0,1,2],"tickSize":-17,"labelPadding":46,"title":"p(δSx)","titlePadding":17}},"color":{"field":"s","type":"nominal","scale":{"domain":["1","2","3"],"range":["#000000","#ff0000","#0000ff"]},"legend":null}}},
 {"data":{"name":"hist"},"transform":[{"filter":"datum.c==='Coma'"},{"window":[{"op":"lag","field":"v","as":"pv"}],"groupby":["s"],"sort":[{"field":"lo"}]},{"filter":"datum.pv != null"}],"mark":{"type":"rule","strokeWidth":2.8,"strokeCap":"square"},"encoding":{"x":{"field":"lo","type":"quantitative","axis":{"orient":"bottom","values":[0.2,0.4,0.6,0.8,1.2,1.4,1.6,1.8,2.2,2.4,2.6,2.8],"tickSize":-10,"labels":false,"domain":false,"title":null}},"y":{"field":"pv","type":"quantitative","axis":{"orient":"left","values":[0.2,0.4,0.6,0.8,1.2,1.4,1.6,1.8,2.2,2.4,2.6,2.8],"tickSize":-10,"labels":false,"domain":false,"title":null}},"y2":{"field":"v"},"color":{"field":"s","type":"nominal"}}},
 {"data":{"name":"curve"},"transform":[{"filter":"datum.c==='Coma'"}],"mark":{"type":"line","strokeWidth":3,"strokeDash":[1,8],"strokeCap":"round"},"encoding":{"x":{"field":"x","type":"quantitative","axis":{"orient":"top","values":[0,1,2],"tickSize":-17,"labels":false,"title":null}},"y":{"field":"y","type":"quantitative","axis":{"orient":"right","values":[0,1,2],"tickSize":-17,"labels":false,"title":null}},"color":{"field":"s","type":"nominal"}}},
 {"data":{"name":"hist"},"transform":[{"filter":"datum.c==='Coma'"}],"mark":{"type":"point","shape":"M0,-1L0,1M-0.87,-0.5L0.87,0.5M-0.87,0.5L0.87,-0.5","filled":false,"strokeWidth":1.4,"opacity":1},"encoding":{"x":{"field":"lo","type":"quantitative","bin":{"binned":true},"axis":{"orient":"top","values":[0.2,0.4,0.6,0.8,1.2,1.4,1.6,1.8,2.2,2.4,2.6,2.8],"tickSize":-10,"labels":false,"domain":false,"title":null}},"x2":{"field":"hi"},"y":{"field":"v","type":"quantitative","axis":{"orient":"right","values":[0.2,0.4,0.6,0.8,1.2,1.4,1.6,1.8,2.2,2.4,2.6,2.8],"tickSize":-10,"labels":false,"domain":false,"title":null}},"color":{"field":"s","type":"nominal"},"size":{"field":"s","type":"nominal","scale":{"domain":["1","2","3"],"range":[190,100,100]},"legend":null}}},
 {"data":{"name":"names"},"transform":[{"filter":"datum.c==='Coma'"}],"mark":{"type":"text","font":"DejaVu Serif","fontSize":32,"align":"center","baseline":"middle","color":"#000000"},"encoding":{"x":{"datum":1.95,"type":"quantitative","axis":null},"y":{"datum":2.49,"type":"quantitative","axis":null},"text":{"field":"c"}}},
 {"data":{"name":"fracs"},"transform":[{"filter":"datum.c==='Coma' && datum.s==='1'"}],"mark":{"type":"text","font":"DejaVu Serif","fontSize":25,"fontWeight":"bold","align":"right","baseline":"middle"},"encoding":{"x":{"datum":2.72,"type":"quantitative","axis":null},"y":{"datum":2.07,"type":"quantitative","axis":null},"text":{"field":"t"},"color":{"field":"s","type":"nominal"}}},
 {"data":{"name":"fracs"},"transform":[{"filter":"datum.c==='Coma' && datum.s==='2'"}],"mark":{"type":"text","font":"DejaVu Serif","fontSize":25,"fontWeight":"bold","align":"right","baseline":"middle"},"encoding":{"x":{"datum":2.72,"type":"quantitative","axis":null},"y":{"datum":1.70,"type":"quantitative","axis":null},"text":{"field":"t"},"color":{"field":"s","type":"nominal"}}},
 {"data":{"name":"fracs"},"transform":[{"filter":"datum.c==='Coma' && datum.s==='3'"}],"mark":{"type":"text","font":"DejaVu Serif","fontSize":25,"fontWeight":"bold","align":"right","baseline":"middle"},"encoding":{"x":{"datum":2.72,"type":"quantitative","axis":null},"y":{"datum":1.34,"type":"quantitative","axis":null},"text":{"field":"t"},"color":{"field":"s","type":"nominal"}}}
]},
{"width":402,"height":249,"resolve":{"axis":{"x":"independent","y":"independent"}},"layer":[
 {"data":{"name":"hist"},"transform":[{"filter":"datum.c==='Centaurus'"}],"mark":{"type":"rule","strokeWidth":2.8,"strokeCap":"square"},"encoding":{"x":{"field":"lo","type":"quantitative","scale":{"domain":[0,3],"nice":false,"zero":false},"axis":{"orient":"bottom","values":[0,1,2],"tickSize":-17,"labels":false,"title":null}},"x2":{"field":"hi"},"y":{"field":"v","type":"quantitative","scale":{"domain":[0,3],"nice":false},"axis":{"orient":"left","values":[0,1,2],"tickSize":-17,"labels":false,"title":null}},"color":{"field":"s","type":"nominal","scale":{"domain":["1","2","3"],"range":["#000000","#ff0000","#0000ff"]},"legend":null}}},
 {"data":{"name":"hist"},"transform":[{"filter":"datum.c==='Centaurus'"},{"window":[{"op":"lag","field":"v","as":"pv"}],"groupby":["s"],"sort":[{"field":"lo"}]},{"filter":"datum.pv != null"}],"mark":{"type":"rule","strokeWidth":2.8,"strokeCap":"square"},"encoding":{"x":{"field":"lo","type":"quantitative","axis":{"orient":"bottom","values":[0.2,0.4,0.6,0.8,1.2,1.4,1.6,1.8,2.2,2.4,2.6,2.8],"tickSize":-10,"labels":false,"domain":false,"title":null}},"y":{"field":"pv","type":"quantitative","axis":{"orient":"left","values":[0.2,0.4,0.6,0.8,1.2,1.4,1.6,1.8,2.2,2.4,2.6,2.8],"tickSize":-10,"labels":false,"domain":false,"title":null}},"y2":{"field":"v"},"color":{"field":"s","type":"nominal"}}},
 {"data":{"name":"curve"},"transform":[{"filter":"datum.c==='Centaurus'"}],"mark":{"type":"line","strokeWidth":3,"strokeDash":[1,8],"strokeCap":"round"},"encoding":{"x":{"field":"x","type":"quantitative","axis":{"orient":"top","values":[0,1,2],"tickSize":-17,"labels":false,"title":null}},"y":{"field":"y","type":"quantitative","axis":{"orient":"right","values":[0,1,2],"tickSize":-17,"labels":false,"title":null}},"color":{"field":"s","type":"nominal"}}},
 {"data":{"name":"hist"},"transform":[{"filter":"datum.c==='Centaurus'"}],"mark":{"type":"point","shape":"M0,-1L0,1M-0.87,-0.5L0.87,0.5M-0.87,0.5L0.87,-0.5","filled":false,"strokeWidth":1.4,"opacity":1},"encoding":{"x":{"field":"lo","type":"quantitative","bin":{"binned":true},"axis":{"orient":"top","values":[0.2,0.4,0.6,0.8,1.2,1.4,1.6,1.8,2.2,2.4,2.6,2.8],"tickSize":-10,"labels":false,"domain":false,"title":null}},"x2":{"field":"hi"},"y":{"field":"v","type":"quantitative","axis":{"orient":"right","values":[0.2,0.4,0.6,0.8,1.2,1.4,1.6,1.8,2.2,2.4,2.6,2.8],"tickSize":-10,"labels":false,"domain":false,"title":null}},"color":{"field":"s","type":"nominal"},"size":{"field":"s","type":"nominal","scale":{"domain":["1","2","3"],"range":[190,100,100]},"legend":null}}},
 {"data":{"name":"names"},"transform":[{"filter":"datum.c==='Centaurus'"}],"mark":{"type":"text","font":"DejaVu Serif","fontSize":32,"align":"center","baseline":"middle","color":"#000000"},"encoding":{"x":{"datum":1.9,"type":"quantitative","axis":null},"y":{"datum":2.49,"type":"quantitative","axis":null},"text":{"field":"c"}}},
 {"data":{"name":"fracs"},"transform":[{"filter":"datum.c==='Centaurus' && datum.s==='1'"}],"mark":{"type":"text","font":"DejaVu Serif","fontSize":25,"fontWeight":"bold","align":"right","baseline":"middle"},"encoding":{"x":{"datum":2.72,"type":"quantitative","axis":null},"y":{"datum":2.07,"type":"quantitative","axis":null},"text":{"field":"t"},"color":{"field":"s","type":"nominal"}}},
 {"data":{"name":"fracs"},"transform":[{"filter":"datum.c==='Centaurus' && datum.s==='2'"}],"mark":{"type":"text","font":"DejaVu Serif","fontSize":25,"fontWeight":"bold","align":"right","baseline":"middle"},"encoding":{"x":{"datum":2.72,"type":"quantitative","axis":null},"y":{"datum":1.70,"type":"quantitative","axis":null},"text":{"field":"t"},"color":{"field":"s","type":"nominal"}}},
 {"data":{"name":"fracs"},"transform":[{"filter":"datum.c==='Centaurus' && datum.s==='3'"}],"mark":{"type":"text","font":"DejaVu Serif","fontSize":25,"fontWeight":"bold","align":"right","baseline":"middle"},"encoding":{"x":{"datum":2.72,"type":"quantitative","axis":null},"y":{"datum":1.34,"type":"quantitative","axis":null},"text":{"field":"t"},"color":{"field":"s","type":"nominal"}}}
]},
{"width":402,"height":249,"resolve":{"axis":{"x":"independent","y":"independent"}},"layer":[
 {"data":{"name":"hist"},"transform":[{"filter":"datum.c==='Perseus'"}],"mark":{"type":"rule","strokeWidth":2.8,"strokeCap":"square"},"encoding":{"x":{"field":"lo","type":"quantitative","scale":{"domain":[0,3],"nice":false,"zero":false},"axis":{"orient":"bottom","values":[0,1,2],"tickSize":-17,"labels":false,"title":null}},"x2":{"field":"hi"},"y":{"field":"v","type":"quantitative","scale":{"domain":[0,3],"nice":false},"axis":{"orient":"left","values":[0,1,2],"tickSize":-17,"labelPadding":46,"title":"p(δSx)","titlePadding":17}},"color":{"field":"s","type":"nominal","scale":{"domain":["1","2","3"],"range":["#000000","#ff0000","#0000ff"]},"legend":null}}},
 {"data":{"name":"hist"},"transform":[{"filter":"datum.c==='Perseus'"},{"window":[{"op":"lag","field":"v","as":"pv"}],"groupby":["s"],"sort":[{"field":"lo"}]},{"filter":"datum.pv != null"}],"mark":{"type":"rule","strokeWidth":2.8,"strokeCap":"square"},"encoding":{"x":{"field":"lo","type":"quantitative","axis":{"orient":"bottom","values":[0.2,0.4,0.6,0.8,1.2,1.4,1.6,1.8,2.2,2.4,2.6,2.8],"tickSize":-10,"labels":false,"domain":false,"title":null}},"y":{"field":"pv","type":"quantitative","axis":{"orient":"left","values":[0.2,0.4,0.6,0.8,1.2,1.4,1.6,1.8,2.2,2.4,2.6,2.8],"tickSize":-10,"labels":false,"domain":false,"title":null}},"y2":{"field":"v"},"color":{"field":"s","type":"nominal"}}},
 {"data":{"name":"curve"},"transform":[{"filter":"datum.c==='Perseus'"}],"mark":{"type":"line","strokeWidth":3,"strokeDash":[1,8],"strokeCap":"round"},"encoding":{"x":{"field":"x","type":"quantitative","axis":{"orient":"top","values":[0,1,2],"tickSize":-17,"labels":false,"title":null}},"y":{"field":"y","type":"quantitative","axis":{"orient":"right","values":[0,1,2],"tickSize":-17,"labels":false,"title":null}},"color":{"field":"s","type":"nominal"}}},
 {"data":{"name":"hist"},"transform":[{"filter":"datum.c==='Perseus'"}],"mark":{"type":"point","shape":"M0,-1L0,1M-0.87,-0.5L0.87,0.5M-0.87,0.5L0.87,-0.5","filled":false,"strokeWidth":1.4,"opacity":1},"encoding":{"x":{"field":"lo","type":"quantitative","bin":{"binned":true},"axis":{"orient":"top","values":[0.2,0.4,0.6,0.8,1.2,1.4,1.6,1.8,2.2,2.4,2.6,2.8],"tickSize":-10,"labels":false,"domain":false,"title":null}},"x2":{"field":"hi"},"y":{"field":"v","type":"quantitative","axis":{"orient":"right","values":[0.2,0.4,0.6,0.8,1.2,1.4,1.6,1.8,2.2,2.4,2.6,2.8],"tickSize":-10,"labels":false,"domain":false,"title":null}},"color":{"field":"s","type":"nominal"},"size":{"field":"s","type":"nominal","scale":{"domain":["1","2","3"],"range":[190,100,100]},"legend":null}}},
 {"data":{"name":"names"},"transform":[{"filter":"datum.c==='Perseus'"}],"mark":{"type":"text","font":"DejaVu Serif","fontSize":32,"align":"center","baseline":"middle","color":"#000000"},"encoding":{"x":{"datum":1.86,"type":"quantitative","axis":null},"y":{"datum":2.48,"type":"quantitative","axis":null},"text":{"field":"c"}}},
 {"data":{"name":"fracs"},"transform":[{"filter":"datum.c==='Perseus' && datum.s==='1'"}],"mark":{"type":"text","font":"DejaVu Serif","fontSize":25,"fontWeight":"bold","align":"right","baseline":"middle"},"encoding":{"x":{"datum":2.72,"type":"quantitative","axis":null},"y":{"datum":2.07,"type":"quantitative","axis":null},"text":{"field":"t"},"color":{"field":"s","type":"nominal"}}},
 {"data":{"name":"fracs"},"transform":[{"filter":"datum.c==='Perseus' && datum.s==='2'"}],"mark":{"type":"text","font":"DejaVu Serif","fontSize":25,"fontWeight":"bold","align":"right","baseline":"middle"},"encoding":{"x":{"datum":2.72,"type":"quantitative","axis":null},"y":{"datum":1.70,"type":"quantitative","axis":null},"text":{"field":"t"},"color":{"field":"s","type":"nominal"}}},
 {"data":{"name":"fracs"},"transform":[{"filter":"datum.c==='Perseus' && datum.s==='3'"}],"mark":{"type":"text","font":"DejaVu Serif","fontSize":25,"fontWeight":"bold","align":"right","baseline":"middle"},"encoding":{"x":{"datum":2.72,"type":"quantitative","axis":null},"y":{"datum":1.34,"type":"quantitative","axis":null},"text":{"field":"t"},"color":{"field":"s","type":"nominal"}}}
]},
{"width":402,"height":249,"resolve":{"axis":{"x":"independent","y":"independent"}},"layer":[
 {"data":{"name":"hist"},"transform":[{"filter":"datum.c==='A3627'"}],"mark":{"type":"rule","strokeWidth":2.8,"strokeCap":"square"},"encoding":{"x":{"field":"lo","type":"quantitative","scale":{"domain":[0,3],"nice":false,"zero":false},"axis":{"orient":"bottom","values":[0,1,2],"tickSize":-17,"labels":false,"title":null}},"x2":{"field":"hi"},"y":{"field":"v","type":"quantitative","scale":{"domain":[0,3],"nice":false},"axis":{"orient":"left","values":[0,1,2],"tickSize":-17,"labels":false,"title":null}},"color":{"field":"s","type":"nominal","scale":{"domain":["1","2","3"],"range":["#000000","#ff0000","#0000ff"]},"legend":null}}},
 {"data":{"name":"hist"},"transform":[{"filter":"datum.c==='A3627'"},{"window":[{"op":"lag","field":"v","as":"pv"}],"groupby":["s"],"sort":[{"field":"lo"}]},{"filter":"datum.pv != null"}],"mark":{"type":"rule","strokeWidth":2.8,"strokeCap":"square"},"encoding":{"x":{"field":"lo","type":"quantitative","axis":{"orient":"bottom","values":[0.2,0.4,0.6,0.8,1.2,1.4,1.6,1.8,2.2,2.4,2.6,2.8],"tickSize":-10,"labels":false,"domain":false,"title":null}},"y":{"field":"pv","type":"quantitative","axis":{"orient":"left","values":[0.2,0.4,0.6,0.8,1.2,1.4,1.6,1.8,2.2,2.4,2.6,2.8],"tickSize":-10,"labels":false,"domain":false,"title":null}},"y2":{"field":"v"},"color":{"field":"s","type":"nominal"}}},
 {"data":{"name":"curve"},"transform":[{"filter":"datum.c==='A3627'"}],"mark":{"type":"line","strokeWidth":3,"strokeDash":[1,8],"strokeCap":"round"},"encoding":{"x":{"field":"x","type":"quantitative","axis":{"orient":"top","values":[0,1,2],"tickSize":-17,"labels":false,"title":null}},"y":{"field":"y","type":"quantitative","axis":{"orient":"right","values":[0,1,2],"tickSize":-17,"labels":false,"title":null}},"color":{"field":"s","type":"nominal"}}},
 {"data":{"name":"hist"},"transform":[{"filter":"datum.c==='A3627'"}],"mark":{"type":"point","shape":"M0,-1L0,1M-0.87,-0.5L0.87,0.5M-0.87,0.5L0.87,-0.5","filled":false,"strokeWidth":1.4,"opacity":1},"encoding":{"x":{"field":"lo","type":"quantitative","bin":{"binned":true},"axis":{"orient":"top","values":[0.2,0.4,0.6,0.8,1.2,1.4,1.6,1.8,2.2,2.4,2.6,2.8],"tickSize":-10,"labels":false,"domain":false,"title":null}},"x2":{"field":"hi"},"y":{"field":"v","type":"quantitative","axis":{"orient":"right","values":[0.2,0.4,0.6,0.8,1.2,1.4,1.6,1.8,2.2,2.4,2.6,2.8],"tickSize":-10,"labels":false,"domain":false,"title":null}},"color":{"field":"s","type":"nominal"},"size":{"field":"s","type":"nominal","scale":{"domain":["1","2","3"],"range":[190,100,100]},"legend":null}}},
 {"data":{"name":"names"},"transform":[{"filter":"datum.c==='A3627'"}],"mark":{"type":"text","font":"DejaVu Serif","fontSize":32,"align":"center","baseline":"middle","color":"#000000"},"encoding":{"x":{"datum":1.98,"type":"quantitative","axis":null},"y":{"datum":2.48,"type":"quantitative","axis":null},"text":{"field":"c"}}},
 {"data":{"name":"fracs"},"transform":[{"filter":"datum.c==='A3627' && datum.s==='1'"}],"mark":{"type":"text","font":"DejaVu Serif","fontSize":25,"fontWeight":"bold","align":"right","baseline":"middle"},"encoding":{"x":{"datum":2.72,"type":"quantitative","axis":null},"y":{"datum":2.07,"type":"quantitative","axis":null},"text":{"field":"t"},"color":{"field":"s","type":"nominal"}}},
 {"data":{"name":"fracs"},"transform":[{"filter":"datum.c==='A3627' && datum.s==='2'"}],"mark":{"type":"text","font":"DejaVu Serif","fontSize":25,"fontWeight":"bold","align":"right","baseline":"middle"},"encoding":{"x":{"datum":2.72,"type":"quantitative","axis":null},"y":{"datum":1.70,"type":"quantitative","axis":null},"text":{"field":"t"},"color":{"field":"s","type":"nominal"}}},
 {"data":{"name":"fracs"},"transform":[{"filter":"datum.c==='A3627' && datum.s==='3'"}],"mark":{"type":"text","font":"DejaVu Serif","fontSize":25,"fontWeight":"bold","align":"right","baseline":"middle"},"encoding":{"x":{"datum":2.72,"type":"quantitative","axis":null},"y":{"datum":1.34,"type":"quantitative","axis":null},"text":{"field":"t"},"color":{"field":"s","type":"nominal"}}}
]},
{"width":402,"height":249,"resolve":{"axis":{"x":"independent","y":"independent"}},"layer":[
 {"data":{"name":"hist"},"transform":[{"filter":"datum.c==='Virgo'"}],"mark":{"type":"rule","strokeWidth":2.8,"strokeCap":"square"},"encoding":{"x":{"field":"lo","type":"quantitative","scale":{"domain":[0,3],"nice":false,"zero":false},"axis":{"orient":"bottom","values":[0,1,2],"tickSize":-17,"labelPadding":32,"title":"δSx","titlePadding":2}},"x2":{"field":"hi"},"y":{"field":"v","type":"quantitative","scale":{"domain":[0,3],"nice":false},"axis":{"orient":"left","values":[0,1,2],"tickSize":-17,"labelPadding":46,"title":"p(δSx)","titlePadding":17}},"color":{"field":"s","type":"nominal","scale":{"domain":["1","2","3"],"range":["#000000","#ff0000","#0000ff"]},"legend":null}}},
 {"data":{"name":"hist"},"transform":[{"filter":"datum.c==='Virgo'"},{"window":[{"op":"lag","field":"v","as":"pv"}],"groupby":["s"],"sort":[{"field":"lo"}]},{"filter":"datum.pv != null"}],"mark":{"type":"rule","strokeWidth":2.8,"strokeCap":"square"},"encoding":{"x":{"field":"lo","type":"quantitative","axis":{"orient":"bottom","values":[0.2,0.4,0.6,0.8,1.2,1.4,1.6,1.8,2.2,2.4,2.6,2.8],"tickSize":-10,"labels":false,"domain":false,"title":null}},"y":{"field":"pv","type":"quantitative","axis":{"orient":"left","values":[0.2,0.4,0.6,0.8,1.2,1.4,1.6,1.8,2.2,2.4,2.6,2.8],"tickSize":-10,"labels":false,"domain":false,"title":null}},"y2":{"field":"v"},"color":{"field":"s","type":"nominal"}}},
 {"data":{"name":"curve"},"transform":[{"filter":"datum.c==='Virgo'"}],"mark":{"type":"line","strokeWidth":3,"strokeDash":[1,8],"strokeCap":"round"},"encoding":{"x":{"field":"x","type":"quantitative","axis":{"orient":"top","values":[0,1,2],"tickSize":-17,"labels":false,"title":null}},"y":{"field":"y","type":"quantitative","axis":{"orient":"right","values":[0,1,2],"tickSize":-17,"labels":false,"title":null}},"color":{"field":"s","type":"nominal"}}},
 {"data":{"name":"hist"},"transform":[{"filter":"datum.c==='Virgo'"}],"mark":{"type":"point","shape":"M0,-1L0,1M-0.87,-0.5L0.87,0.5M-0.87,0.5L0.87,-0.5","filled":false,"strokeWidth":1.4,"opacity":1},"encoding":{"x":{"field":"lo","type":"quantitative","bin":{"binned":true},"axis":{"orient":"top","values":[0.2,0.4,0.6,0.8,1.2,1.4,1.6,1.8,2.2,2.4,2.6,2.8],"tickSize":-10,"labels":false,"domain":false,"title":null}},"x2":{"field":"hi"},"y":{"field":"v","type":"quantitative","axis":{"orient":"right","values":[0.2,0.4,0.6,0.8,1.2,1.4,1.6,1.8,2.2,2.4,2.6,2.8],"tickSize":-10,"labels":false,"domain":false,"title":null}},"color":{"field":"s","type":"nominal"},"size":{"field":"s","type":"nominal","scale":{"domain":["1","2","3"],"range":[190,100,100]},"legend":null}}},
 {"data":{"name":"names"},"transform":[{"filter":"datum.c==='Virgo'"}],"mark":{"type":"text","font":"DejaVu Serif","fontSize":32,"align":"center","baseline":"middle","color":"#000000"},"encoding":{"x":{"datum":1.93,"type":"quantitative","axis":null},"y":{"datum":2.48,"type":"quantitative","axis":null},"text":{"field":"c"}}},
 {"data":{"name":"fracs"},"transform":[{"filter":"datum.c==='Virgo' && datum.s==='1'"}],"mark":{"type":"text","font":"DejaVu Serif","fontSize":25,"fontWeight":"bold","align":"right","baseline":"middle"},"encoding":{"x":{"datum":2.72,"type":"quantitative","axis":null},"y":{"datum":2.07,"type":"quantitative","axis":null},"text":{"field":"t"},"color":{"field":"s","type":"nominal"}}},
 {"data":{"name":"fracs"},"transform":[{"filter":"datum.c==='Virgo' && datum.s==='2'"}],"mark":{"type":"text","font":"DejaVu Serif","fontSize":25,"fontWeight":"bold","align":"right","baseline":"middle"},"encoding":{"x":{"datum":2.72,"type":"quantitative","axis":null},"y":{"datum":1.70,"type":"quantitative","axis":null},"text":{"field":"t"},"color":{"field":"s","type":"nominal"}}},
 {"data":{"name":"fracs"},"transform":[{"filter":"datum.c==='Virgo' && datum.s==='3'"}],"mark":{"type":"text","font":"DejaVu Serif","fontSize":25,"fontWeight":"bold","align":"right","baseline":"middle"},"encoding":{"x":{"datum":2.72,"type":"quantitative","axis":null},"y":{"datum":1.34,"type":"quantitative","axis":null},"text":{"field":"t"},"color":{"field":"s","type":"nominal"}}}
]},
{"width":402,"height":249,"resolve":{"axis":{"x":"independent","y":"independent"}},"layer":[
 {"data":{"name":"hist"},"transform":[{"filter":"datum.c==='Hydra'"}],"mark":{"type":"rule","strokeWidth":2.8,"strokeCap":"square"},"encoding":{"x":{"field":"lo","type":"quantitative","scale":{"domain":[0,3],"nice":false,"zero":false},"axis":{"orient":"bottom","values":[0,1,2],"tickSize":-17,"labelPadding":32,"title":"δSx","titlePadding":2}},"x2":{"field":"hi"},"y":{"field":"v","type":"quantitative","scale":{"domain":[0,3],"nice":false},"axis":{"orient":"left","values":[0,1,2],"tickSize":-17,"labels":false,"title":null}},"color":{"field":"s","type":"nominal","scale":{"domain":["1","2","3"],"range":["#000000","#ff0000","#0000ff"]},"legend":null}}},
 {"data":{"name":"hist"},"transform":[{"filter":"datum.c==='Hydra'"},{"window":[{"op":"lag","field":"v","as":"pv"}],"groupby":["s"],"sort":[{"field":"lo"}]},{"filter":"datum.pv != null"}],"mark":{"type":"rule","strokeWidth":2.8,"strokeCap":"square"},"encoding":{"x":{"field":"lo","type":"quantitative","axis":{"orient":"bottom","values":[0.2,0.4,0.6,0.8,1.2,1.4,1.6,1.8,2.2,2.4,2.6,2.8],"tickSize":-10,"labels":false,"domain":false,"title":null}},"y":{"field":"pv","type":"quantitative","axis":{"orient":"left","values":[0.2,0.4,0.6,0.8,1.2,1.4,1.6,1.8,2.2,2.4,2.6,2.8],"tickSize":-10,"labels":false,"domain":false,"title":null}},"y2":{"field":"v"},"color":{"field":"s","type":"nominal"}}},
 {"data":{"name":"curve"},"transform":[{"filter":"datum.c==='Hydra'"}],"mark":{"type":"line","strokeWidth":3,"strokeDash":[1,8],"strokeCap":"round"},"encoding":{"x":{"field":"x","type":"quantitative","axis":{"orient":"top","values":[0,1,2],"tickSize":-17,"labels":false,"title":null}},"y":{"field":"y","type":"quantitative","axis":{"orient":"right","values":[0,1,2],"tickSize":-17,"labels":false,"title":null}},"color":{"field":"s","type":"nominal"}}},
 {"data":{"name":"hist"},"transform":[{"filter":"datum.c==='Hydra'"}],"mark":{"type":"point","shape":"M0,-1L0,1M-0.87,-0.5L0.87,0.5M-0.87,0.5L0.87,-0.5","filled":false,"strokeWidth":1.4,"opacity":1},"encoding":{"x":{"field":"lo","type":"quantitative","bin":{"binned":true},"axis":{"orient":"top","values":[0.2,0.4,0.6,0.8,1.2,1.4,1.6,1.8,2.2,2.4,2.6,2.8],"tickSize":-10,"labels":false,"domain":false,"title":null}},"x2":{"field":"hi"},"y":{"field":"v","type":"quantitative","axis":{"orient":"right","values":[0.2,0.4,0.6,0.8,1.2,1.4,1.6,1.8,2.2,2.4,2.6,2.8],"tickSize":-10,"labels":false,"domain":false,"title":null}},"color":{"field":"s","type":"nominal"},"size":{"field":"s","type":"nominal","scale":{"domain":["1","2","3"],"range":[190,100,100]},"legend":null}}},
 {"data":{"name":"names"},"transform":[{"filter":"datum.c==='Hydra'"}],"mark":{"type":"text","font":"DejaVu Serif","fontSize":32,"align":"center","baseline":"middle","color":"#000000"},"encoding":{"x":{"datum":1.99,"type":"quantitative","axis":null},"y":{"datum":2.48,"type":"quantitative","axis":null},"text":{"field":"c"}}},
 {"data":{"name":"fracs"},"transform":[{"filter":"datum.c==='Hydra' && datum.s==='1'"}],"mark":{"type":"text","font":"DejaVu Serif","fontSize":25,"fontWeight":"bold","align":"right","baseline":"middle"},"encoding":{"x":{"datum":2.72,"type":"quantitative","axis":null},"y":{"datum":2.07,"type":"quantitative","axis":null},"text":{"field":"t"},"color":{"field":"s","type":"nominal"}}},
 {"data":{"name":"fracs"},"transform":[{"filter":"datum.c==='Hydra' && datum.s==='2'"}],"mark":{"type":"text","font":"DejaVu Serif","fontSize":25,"fontWeight":"bold","align":"right","baseline":"middle"},"encoding":{"x":{"datum":2.72,"type":"quantitative","axis":null},"y":{"datum":1.70,"type":"quantitative","axis":null},"text":{"field":"t"},"color":{"field":"s","type":"nominal"}}},
 {"data":{"name":"fracs"},"transform":[{"filter":"datum.c==='Hydra' && datum.s==='3'"}],"mark":{"type":"text","font":"DejaVu Serif","fontSize":25,"fontWeight":"bold","align":"right","baseline":"middle"},"encoding":{"x":{"datum":2.72,"type":"quantitative","axis":null},"y":{"datum":1.34,"type":"quantitative","axis":null},"text":{"field":"t"},"color":{"field":"s","type":"nominal"}}}
]}
]
}
